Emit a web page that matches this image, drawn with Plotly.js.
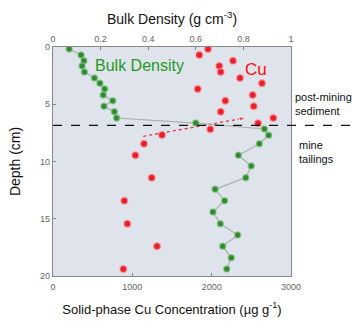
<!DOCTYPE html>
<html><head><meta charset="utf-8">
<script src="https://cdn.plot.ly/plotly-3.0.1.min.js"></script>
<style>body{margin:0;background:#fff}#c{width:358px;height:321px}</style>
</head><body><div id="c"></div>
<script>
// Bulk density profile (top axis)
const bdDepth = [0.17,0.7,1.2,1.66,2.18,2.7,3.17,3.67,4.19,4.69,5.18,5.65,6.2,6.64,7.16,7.71,8.45,9.46,10.39,11.41,12.43,13.42,14.41,15.43,16.42,17.41,18.4,19.39];
const bdValue = [0.068,0.118,0.13,0.122,0.132,0.174,0.197,0.217,0.211,0.251,0.214,0.258,0.267,0.60,0.888,0.906,0.867,0.779,0.833,0.81,0.681,0.721,0.672,0.703,0.776,0.713,0.749,0.73];
// Cu concentration profile (bottom axis)
const cuDepth = [0.17,0.7,1.2,1.66,2.18,2.7,3.17,3.67,4.19,4.69,5.18,5.65,6.2,6.66,7.19,7.68,8.45,9.46,11.41,13.42,15.43,17.41,19.39];
const cuValue = [1954,1844,2269,2096,2114,2357,2634,1824,2517,2172,2530,2114,2777,2584,1983,1374,1147,1038,1244,899,937,1311,887];
// Boundary and trend arrow
const boundaryDepth = 6.84;
const arrowCu = [1138, 2442];
const arrowDepth = [7.8, 6.17];

const traces = [
  {x: bdValue, y: bdDepth, xaxis: 'x2', yaxis: 'y', mode: 'lines+markers', type: 'scatter',
   line: {color: '#a9b0a9', width: 1.2},
   marker: {color: '#2f8a2f', size: 6, line: {color: 'rgba(120,190,120,0.6)', width: 1.5}}},
  {x: cuValue, y: cuDepth, xaxis: 'x', yaxis: 'y', mode: 'markers', type: 'scatter',
   marker: {color: '#e8202a', size: 7, line: {color: 'rgba(250,160,170,0.7)', width: 1.5}}},
  {x: arrowCu, y: arrowDepth, xaxis: 'x', yaxis: 'y', mode: 'lines+markers', type: 'scatter',
   line: {color: '#e8202a', width: 1.2, dash: 'dot'},
   marker: {symbol: 'arrow', size: [0, 8], angleref: 'previous', color: '#e8202a'}}
];

const tickFont = {family: 'Liberation Sans, Arial, sans-serif', size: 9, color: '#666'};
const layout = {
  width: 358, height: 321,
  margin: {l: 53, r: 67, t: 47, b: 45},
  paper_bgcolor: '#ffffff', plot_bgcolor: '#dfe4ec',
  showlegend: false,
  font: {family: 'Liberation Sans, Arial, sans-serif', color: '#111'},
  xaxis: {range: [0, 3000], tickvals: [0, 1000, 2000, 3000], ticks: 'inside', ticklen: 3,
    tickcolor: '#888', showgrid: false, zeroline: false, showline: true, linecolor: '#888', linewidth: 1.2,
    mirror: false, tickfont: tickFont, ticklabelstandoff: 2,
    title: {text: 'Solid-phase Cu Concentration (\u00b5g g<sup>-1</sup>)', font: {size: 13, color: '#111'}, standoff: 13}},
  xaxis2: {range: [0, 1], overlaying: 'x', side: 'top', tickvals: [0, 0.2, 0.4, 0.6, 0.8, 1],
    ticktext: ['0','0.2','0.4','0.6','0.8','1'], ticks: 'inside', ticklen: 3, tickcolor: '#888',
    showgrid: false, zeroline: false, showline: true, linecolor: '#888', linewidth: 1.2, tickfont: tickFont,
    title: {text: 'Bulk Density (g cm<sup>-3</sup>)', font: {size: 14, color: '#111'}, standoff: 6}},
  yaxis: {range: [20, 0], tickvals: [0, 5, 10, 15, 20], ticks: 'inside', ticklen: 3, tickcolor: '#888',
    showgrid: false, zeroline: false, showline: true, linecolor: '#888', linewidth: 1.2, mirror: true,
    tickfont: tickFont,
    title: {text: 'Depth (cm)', font: {size: 14, color: '#111'}, standoff: 16}},
  shapes: [
    {type: 'line', xref: 'paper', yref: 'y', x0: 0, x1: 1.285, y0: boundaryDepth, y1: boundaryDepth,
     line: {color: '#111', width: 1.2, dash: 'dash'}}
  ],
  annotations: [
    {x: 0.168, y: 1.6, xref: 'x2', yref: 'y', text: 'Bulk Density', showarrow: false, xanchor: 'left',
     font: {size: 16, color: '#1f9a1f'}},
    {x: 0.8, y: 1.95, xref: 'x2', yref: 'y', text: 'Cu', showarrow: false, xanchor: 'left',
     font: {size: 17, color: '#ff0a0a'}},
    {x: 1.01, y: 5.0, xref: 'paper', yref: 'y', text: 'post-mining<br>sediment', showarrow: false,
     xanchor: 'left', align: 'left', font: {size: 11, color: '#111'}},
    {x: 1.025, y: 9.2, xref: 'paper', yref: 'y', text: 'mine<br>tailings', showarrow: false,
     xanchor: 'left', align: 'left', font: {size: 11, color: '#111'}}
  ]
};
Plotly.newPlot('c', traces, layout, {displayModeBar: false, staticPlot: true});
</script></body></html>
